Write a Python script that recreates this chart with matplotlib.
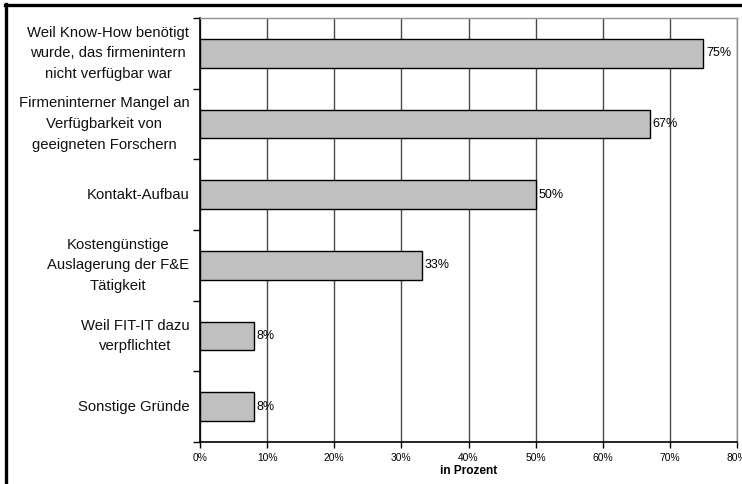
import matplotlib
matplotlib.use("Agg")
import matplotlib.pyplot as plt
from matplotlib.lines import Line2D
import numpy as np

plt.rcParams['font.family'] = ['Liberation Sans', 'DejaVu Sans']

categories = [
    "Weil Know-How benötigt\nwurde, das firmenintern\nnicht verfügbar war",
    "Firmeninterner Mangel an\nVerfügbarkeit von\ngeeigneten Forschern",
    "Kontakt-Aufbau",
    "Kostengünstige\nAuslagerung der F&E\nTätigkeit",
    "Weil FIT-IT dazu\nverpflichtet",
    "Sonstige Gründe",
]
values = [75, 67, 50, 33, 8, 8]
x_ticks = [0, 10, 20, 30, 40, 50, 60, 70, 80]
x_label = "in Prozent"

W, H = 742, 484
fig = plt.figure(figsize=(W / 100, H / 100), dpi=100)
ax = fig.add_axes([200 / W, 1 - 442 / H, 537 / W, 424 / H])

n = len(categories)
pos = np.arange(n)
ax.barh(pos, values, height=0.41, color="#C0C0C0", edgecolor="black",
        linewidth=1.0, zorder=3)

ax.set_xlim(0, 80)
ax.set_ylim(n - 0.5, -0.5)
ax.set_xticks(x_ticks)
ax.set_xticklabels([f"{t}%" for t in x_ticks], fontsize=7.4)
ax.tick_params(axis="x", direction="out", length=4, width=1, pad=4,
               color="black")
ax.xaxis.grid(True, color="#4a4a4a", linewidth=1.0, zorder=0)
ax.set_axisbelow(True)

# Category ticks sit between bars
ax.set_yticks(np.arange(-0.5, n, 1.0))
ax.set_yticklabels([])
ax.tick_params(axis="y", direction="out", length=5, width=1, color="black")
for i, lab in enumerate(categories):
    ax.text(-1.6, i, lab, ha="right", va="center", multialignment="center",
            fontsize=10.7, linespacing=1.6, color="#111111",
            transform=ax.transData)

for i, v in enumerate(values):
    ax.text(v + 0.4, i, f"{v}%", ha="left", va="center", fontsize=9,
            zorder=4)

ax.set_xlabel(x_label, fontsize=8.6, fontweight="bold", labelpad=1)

for side in ("left", "bottom"):
    ax.spines[side].set_color("black")
    ax.spines[side].set_linewidth(1.2)
for side in ("top", "right"):
    ax.spines[side].set_color("#909090")
    ax.spines[side].set_linewidth(1.0)

# Thick frame around the chart (left and top edges)
fig.add_artist(Line2D([6 / W, 6 / W], [0, 1 - 4 / H], color="black",
                      linewidth=2.4, transform=fig.transFigure))
fig.add_artist(Line2D([4.5 / W, 1], [1 - 5 / H, 1 - 5 / H], color="black",
                      linewidth=2.4, transform=fig.transFigure))

fig.savefig("out.png", dpi=100)
